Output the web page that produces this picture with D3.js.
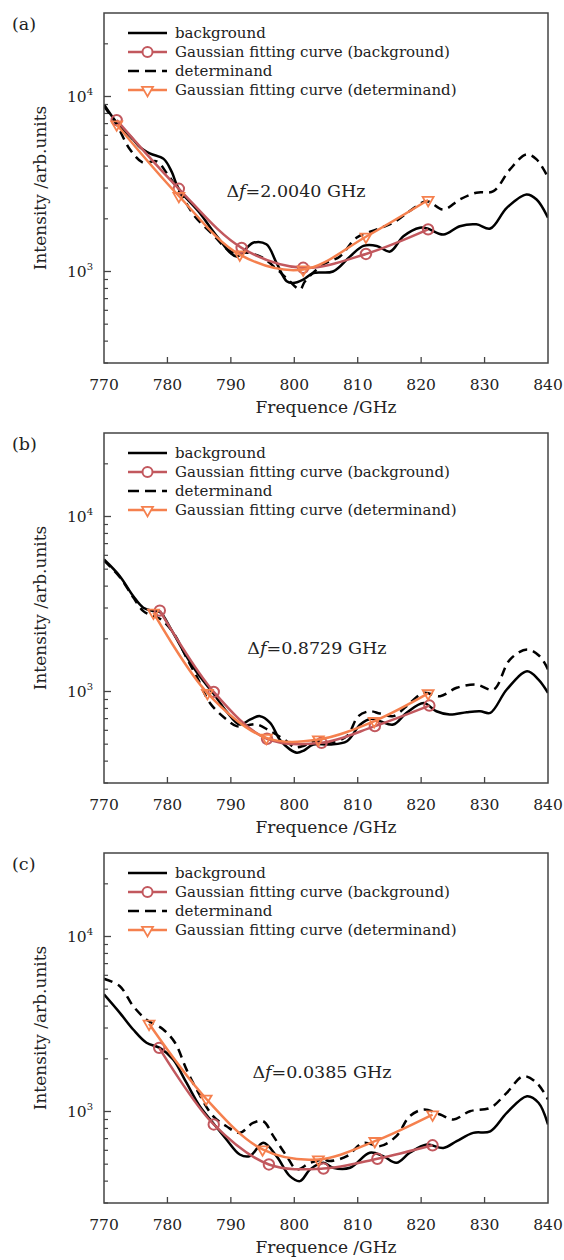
<!DOCTYPE html>
<html>
<head>
<meta charset="utf-8">
<script src="https://cdn.jsdelivr.net/npm/d3@7"></script>
<style>
  body { margin: 0; background: #fff; }
  svg { display: block; }
  text { font-family: "DejaVu Serif", serif; fill: #222; }
</style>
</head>
<body>
<svg id="chart" width="564" height="1260"></svg>
<script>
// frequency (GHz), intensity (arb. units)
const bgA = [[770, 9000], [772, 7100], [774.6, 5680], [775.7, 5120], [777.3, 4720], [779.4, 4400], [780.7, 3700], [781.7, 3000], [785.1, 2160], [787.8, 1590], [790.9, 1220], [793.5, 1460], [795.6, 1430], [797.2, 1120], [798.8, 880], [799.8, 860], [801.4, 900], [803, 980], [806.1, 1000], [808.8, 1220], [810.9, 1400], [813, 1400], [815.1, 1300], [817.2, 1590], [819.8, 1780], [821, 1760], [823.5, 1625], [826.1, 1815], [828.7, 1860], [830.9, 1760], [833.5, 2310], [836.6, 2755], [838.2, 2580], [840, 2030]];
const detA = [[770, 8800], [772, 6900], [774.1, 4980], [776.2, 4180], [778.3, 4260], [780, 3600], [782, 2820], [784.3, 2070], [787.2, 1620], [790, 1300], [792.7, 1280], [795, 1200], [797, 1050], [799, 900], [800.9, 790], [801.7, 880], [804.6, 1100], [807.2, 1220], [809.8, 1560], [813, 1740], [815.6, 1900], [818.2, 2215], [820.9, 2520], [823.5, 2260], [826.1, 2580], [828.7, 2820], [831.4, 2880], [834, 3830], [836.6, 4670], [838.2, 4370], [840, 3450]];
const fitBgA = [[772, 7330], [781.8, 2970], [791.7, 1365], [801.4, 1050], [811.3, 1260], [821.1, 1740]];
const fitDetA = [[772, 6920], [781.8, 2700], [791.4, 1250], [801.4, 1026], [811.3, 1580], [821.1, 2560]];

const bgB = [[770, 5680], [772.5, 4560], [774.6, 3510], [776.2, 3010], [777.8, 2880], [778.8, 2850], [780.6, 2260], [783, 1590], [785.1, 1220], [787.2, 980], [789.3, 770], [791.4, 647], [793, 690], [794.6, 723], [796.2, 662], [797.7, 532], [799.3, 467], [800.4, 447], [801.5, 460], [803, 498], [805.6, 498], [808.3, 520], [810.4, 647], [812.2, 698], [813.5, 677], [815.6, 647], [817.7, 755], [820.4, 860], [822.4, 771], [824.5, 739], [827.2, 762], [829.3, 771], [830.9, 755], [833.5, 1026], [836.7, 1306], [838.5, 1170], [840, 982]];
const detB = [[770, 5600], [772.5, 4500], [774.6, 3450], [776.2, 2880], [777.8, 2700], [779, 2580], [781, 2150], [783, 1560], [784.6, 1220], [786.7, 860], [789.3, 692], [790.9, 634], [792.5, 640], [794, 650], [796, 600], [798.8, 520], [800, 480], [801.5, 490], [803, 520], [805.6, 510], [808.3, 556], [810.1, 723], [811.9, 771], [813.5, 748], [815.6, 723], [817.7, 824], [820.4, 982], [823, 940], [825.6, 1050], [828.7, 1096], [831.4, 1026], [834, 1523], [836.7, 1738], [838.7, 1590], [840, 1337]];
const fitBgB = [[778.8, 2900], [787.3, 995], [795.7, 537], [804.3, 509], [812.7, 634], [821.3, 831]];
const fitDetB = [[777.8, 2820], [786.3, 980], [795.6, 543], [803.8, 532], [812.6, 677], [821.1, 975]];

const bgC = [[770, 4670], [772.5, 3660], [774.6, 2940], [776.7, 2470], [778.8, 2310], [780.9, 1980], [783, 1460], [785.1, 1072], [787.2, 860], [789.3, 692], [791.4, 568], [793, 556], [795.1, 662], [797.2, 556], [799.3, 427], [800.9, 400], [802.5, 467], [804.6, 509], [806.1, 477], [808.8, 477], [811.9, 581], [814, 556], [816.1, 509], [818.2, 581], [820.9, 647], [823.5, 619], [825.6, 677], [828.2, 755], [830.9, 771], [833.5, 982], [836.7, 1222], [838.5, 1122], [840, 843]];
const detC = [[770, 5730], [772.5, 5200], [774.6, 4000], [776.7, 3350], [779.3, 2950], [781.2, 2470], [783, 1740], [784.6, 1337], [787.2, 940], [789.3, 824], [791.4, 755], [793.5, 860], [795.1, 880], [796.7, 723], [798.8, 556], [800.4, 467], [802.5, 509], [804.6, 532], [805.6, 521], [808.3, 556], [810.9, 662], [813.5, 634], [816.1, 723], [818.2, 940], [820.4, 1026], [823, 961], [825.1, 900], [827.7, 1004], [830.9, 1050], [833.5, 1279], [836.1, 1590], [838.2, 1460], [840, 1172]];
const fitBgC = [[778.7, 2310], [787.3, 843], [796, 498], [804.6, 472], [813.1, 537], [821.8, 641]];
const fitDetC = [[777.1, 3170], [786.1, 1183], [795, 607], [803.8, 532], [812.7, 677], [821.8, 961]];

const panelLabels = ["(a)", "(b)", "(c)"];
const deltaF = ["2.0040", "0.8729", "0.0385"];
const deltaPos = [[789.3, 2680], [792.6, 1640], [793.4, 1560]];
const xTicks = [770, 780, 790, 800, 810, 820, 830, 840];
const yMajor = [1000, 10000];
const yMinor = [300, 400, 500, 600, 700, 800, 900, 2000, 3000, 4000, 5000, 6000, 7000, 8000, 9000, 20000];
const legendNames = ["background", "Gaussian fitting curve (background)", "determinand", "Gaussian fitting curve (determinand)"];

const RED = "#c2585e";
const ORANGE = "#f5804e";
const AXIS = "#444";

const margin = { left: 104, right: 16 };
const width = 564;
const plotH = 350;
const panelTops = [13, 433, 853];

const x = d3.scaleLinear().domain([770, 840]).range([margin.left, width - margin.right]);

const svg = d3.select("#chart");

const panels = [
  { bg: bgA, det: detA, fitBg: fitBgA, fitDet: fitDetA },
  { bg: bgB, det: detB, fitBg: fitBgB, fitDet: fitDetB },
  { bg: bgC, det: detC, fitBg: fitBgC, fitDet: fitDetC },
];

const triangle = d3.symbol().type(d3.symbolTriangle).size(52);

function drawPanel(p, i) {
  const top = panelTops[i];
  const y = d3.scaleLog().domain([300, 30000]).range([top + plotH, top]);
  const g = svg.append("g").attr("class", "panel");

  const line = d3
    .line()
    .x((d) => x(d[0]))
    .y((d) => y(d[1]))
    .curve(d3.curveCatmullRom.alpha(0.5));

  g.append("defs")
    .append("clipPath")
    .attr("id", `clip${i}`)
    .append("rect")
    .attr("x", x(770))
    .attr("y", top)
    .attr("width", x(840) - x(770))
    .attr("height", plotH);

  const plot = g.append("g").attr("clip-path", `url(#clip${i})`);

  plot.append("path")
    .datum(p.bg)
    .attr("d", line)
    .attr("fill", "none")
    .attr("stroke", "#000")
    .attr("stroke-width", 2.5);

  plot.append("path")
    .datum(p.det)
    .attr("d", line)
    .attr("fill", "none")
    .attr("stroke", "#000")
    .attr("stroke-width", 2.5)
    .attr("stroke-dasharray", "9,6");

  plot.append("path")
    .datum(p.fitBg)
    .attr("d", line)
    .attr("fill", "none")
    .attr("stroke", RED)
    .attr("stroke-width", 2.5);

  plot.selectAll(".m-bg")
    .data(p.fitBg)
    .join("circle")
    .attr("class", "m-bg")
    .attr("cx", (d) => x(d[0]))
    .attr("cy", (d) => y(d[1]))
    .attr("r", 5.2)
    .attr("fill", "none")
    .attr("stroke", RED)
    .attr("stroke-width", 2);

  plot.append("path")
    .datum(p.fitDet)
    .attr("d", line)
    .attr("fill", "none")
    .attr("stroke", ORANGE)
    .attr("stroke-width", 2.5);

  plot.selectAll(".m-det")
    .data(p.fitDet)
    .join("path")
    .attr("class", "m-det")
    .attr("d", triangle)
    .attr("transform", (d) => `translate(${x(d[0])},${y(d[1])}) rotate(180)`)
    .attr("fill", "none")
    .attr("stroke", ORANGE)
    .attr("stroke-width", 1.8);

  // frame
  g.append("rect")
    .attr("x", x(770))
    .attr("y", top)
    .attr("width", x(840) - x(770))
    .attr("height", plotH)
    .attr("fill", "none")
    .attr("stroke", AXIS)
    .attr("stroke-width", 1.5);

  // x ticks (inward)
  g.selectAll(".xt")
    .data(xTicks.slice(1, -1))
    .join("line")
    .attr("x1", (d) => x(d))
    .attr("x2", (d) => x(d))
    .attr("y1", top + plotH)
    .attr("y2", top + plotH - 6)
    .attr("stroke", AXIS)
    .attr("stroke-width", 1.3);

  g.selectAll(".xl")
    .data(xTicks)
    .join("text")
    .attr("x", (d) => x(d))
    .attr("y", top + plotH + 27)
    .attr("text-anchor", "middle")
    .attr("font-size", 15.5)
    .text((d) => d);

  // y ticks (inward)
  g.selectAll(".ytM")
    .data(yMajor)
    .join("line")
    .attr("x1", x(770))
    .attr("x2", x(770) + 7)
    .attr("y1", (d) => y(d))
    .attr("y2", (d) => y(d))
    .attr("stroke", AXIS)
    .attr("stroke-width", 1.3);

  g.selectAll(".ytm")
    .data(yMinor)
    .join("line")
    .attr("x1", x(770))
    .attr("x2", x(770) + 4)
    .attr("y1", (d) => y(d))
    .attr("y2", (d) => y(d))
    .attr("stroke", AXIS)
    .attr("stroke-width", 1.2);

  const yl = g.selectAll(".yl")
    .data(yMajor)
    .join("text")
    .attr("x", x(770) - 11)
    .attr("y", (d) => y(d) + 6)
    .attr("text-anchor", "end")
    .attr("font-size", 15.5);
  yl.append("tspan").text("10");
  yl.append("tspan")
    .attr("dy", -7)
    .attr("font-size", 10)
    .text((d) => Math.round(Math.log10(d)));

  // axis titles
  g.append("text")
    .attr("x", (x(770) + x(840)) / 2)
    .attr("y", top + plotH + 50)
    .attr("text-anchor", "middle")
    .attr("font-size", 17)
    .text("Frequence /GHz");

  g.append("text")
    .attr("transform", `translate(46,${top + plotH / 2}) rotate(-90)`)
    .attr("text-anchor", "middle")
    .attr("font-size", 17)
    .text("Intensity /arb.units");

  g.append("text")
    .attr("x", 12)
    .attr("y", top + 17)
    .attr("font-size", 17.5)
    .text(panelLabels[i]);

  // delta f annotation
  const ann = g.append("text")
    .attr("x", x(deltaPos[i][0]))
    .attr("y", y(deltaPos[i][1]))
    .attr("font-size", 17.5);
  ann.append("tspan").text("Δ");
  ann.append("tspan").attr("font-style", "italic").text("f");
  ann.append("tspan").text(`=${deltaF[i]} GHz`);

  // legend
  const lg = g.append("g").attr("transform", `translate(128,${top + 20})`);
  legendNames.forEach((name, k) => {
    const row = lg.append("g").attr("transform", `translate(0,${k * 19})`);
    const color = k === 1 ? RED : k === 3 ? ORANGE : "#000";
    row.append("line")
      .attr("x1", 0)
      .attr("x2", 39)
      .attr("stroke", color)
      .attr("stroke-width", 2.5)
      .attr("stroke-dasharray", k === 2 ? "11,6" : null);
    if (k === 1) {
      row.append("circle").attr("cx", 19.5).attr("r", 5)
        .attr("fill", "#fff").attr("stroke", RED).attr("stroke-width", 2);
    }
    if (k === 3) {
      row.append("path").attr("d", triangle)
        .attr("transform", "translate(19.5,0) rotate(180)")
        .attr("fill", "#fff").attr("stroke", ORANGE).attr("stroke-width", 1.8);
    }
    row.append("text")
      .attr("x", 47)
      .attr("y", 5)
      .attr("font-size", 15)
      .text(name);
  });
}

panels.forEach(drawPanel);
</script>
</body>
</html>
